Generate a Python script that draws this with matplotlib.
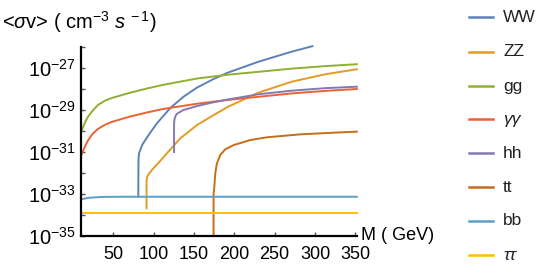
import numpy as np
import matplotlib
matplotlib.use("Agg")
import matplotlib.pyplot as plt
from matplotlib.lines import Line2D

plt.rcParams['font.family'] = ['Liberation Sans', 'DejaVu Sans']
plt.rcParams['mathtext.fontset'] = 'custom'
plt.rcParams['mathtext.rm'] = 'Liberation Sans'
plt.rcParams['mathtext.it'] = 'Liberation Sans:italic'
plt.rcParams['mathtext.bf'] = 'Liberation Sans:bold'

# --------------------------------------------------
# Data: mass M (GeV) and log10(<sigma v>)
# --------------------------------------------------
m_ww = [81.0, 81.1, 81.3, 82.0, 83.5, 86.0, 89.7, 95.0, 104.2, 120.7, 137.3,
        153.9, 174.5, 192.0, 230.0, 271.3, 296.8]
s_ww = [-33.13, -32.0, -31.3, -31.05, -30.9, -30.65, -30.43, -30.12, -29.63,
        -28.9, -28.36, -27.93, -27.52, -27.22, -26.7, -26.22, -25.96]

m_zz = [91.2, 91.2, 91.6, 93.4, 98.0, 108.3, 116.5, 133.0, 153.9, 174.5,
        192.0, 230.0, 271.3, 312.5, 351.8]
s_zz = [-33.68, -32.4, -32.22, -32.08, -31.85, -31.42, -31.06, -30.35, -29.71,
        -29.24, -28.85, -28.17, -27.65, -27.3, -27.06]

m_gg = [10.3, 12.5, 15.5, 18.7, 24.0, 31.0, 40.0, 48.0, 68.6, 91.3, 112.0,
        153.9, 192.0, 230.0, 271.3, 312.5, 351.8]
s_gg = [-30.05, -29.82, -29.55, -29.32, -29.05, -28.76, -28.55, -28.43, -28.2,
        -27.98, -27.8, -27.5, -27.32, -27.18, -27.03, -26.91, -26.82]

m_aa = [10.3, 12.5, 15.0, 18.7, 24.0, 31.0, 40.0, 48.0, 69.0, 91.3, 112.0,
        153.9, 192.0, 230.0, 271.3, 312.5, 351.8]
s_aa = [-31.15, -30.96, -30.73, -30.45, -30.15, -29.9, -29.7, -29.57, -29.33,
        -29.12, -28.95, -28.7, -28.52, -28.37, -28.21, -28.09, -28.0]

m_hh = [125.3, 125.3, 125.8, 127.0, 128.5, 136.8, 153.9, 174.5, 192.0, 230.0,
        271.3, 312.5, 351.8]
s_hh = [-31.0, -29.7, -29.45, -29.3, -29.19, -29.0, -28.81, -28.63, -28.5,
        -28.25, -28.08, -27.96, -27.89]

m_tt = [174.2, 174.3, 175.2, 176.4, 178.4, 182.6, 188.8, 199.1, 219.8, 240.4,
        281.8, 323.0, 351.8]
s_tt = [-35.0, -33.0, -32.65, -32.01, -31.54, -31.14, -30.87, -30.67, -30.43,
        -30.3, -30.16, -30.08, -30.03]

m_bb = [10.0, 20.0, 35.0, 60.0, 351.8]
s_bb = [-33.25, -33.18, -33.14, -33.13, -33.13]

m_ta = [10.0, 351.8]
s_ta = [-33.89, -33.89]

labels = ["WW", "ZZ", "gg", "γγ", "hh", "tt", "bb", "ττ"]
colors = ["#5E81B5", "#E19C24", "#8FB032", "#EB6235",
          "#8778B3", "#C56E1A", "#5D9EC7", "#FFBF00"]
masses = [m_ww, m_zz, m_gg, m_aa, m_hh, m_tt, m_bb, m_ta]
logsig = [s_ww, s_zz, s_gg, s_aa, s_hh, s_tt, s_bb, s_ta]

y_exps = list(range(-35, -25))
x_ticks = [50, 100, 150, 200, 250, 300, 350]

# --------------------------------------------------
# Figure
# --------------------------------------------------
fig = plt.figure(figsize=(5.45, 2.73), dpi=100)
ax = fig.add_axes([81 / 545, 37 / 273, 276 / 545, 189 / 273])

for m, s, c in zip(masses, logsig, colors):
    ax.plot(m, 10.0 ** np.array(s), color=c, lw=1.4, clip_on=False)

ax.set_yscale('log')
ax.set_xlim(10, 352)
ax.set_ylim(1e-35, 1e-26)

ax.set_yticks([10.0 ** e for e in y_exps])
ax.set_yticklabels([r"$10^{%d}$" % e if e % 2 else "" for e in y_exps])
ax.yaxis.set_minor_locator(matplotlib.ticker.NullLocator())
ax.set_xticks(x_ticks)
ax.set_xticklabels([str(t) for t in x_ticks])

ax.tick_params(axis='both', direction='in', length=3, width=1,
               color='#555555')
ax.tick_params(axis='y', pad=4, labelsize=14.5)
ax.tick_params(axis='x', pad=7, labelsize=13)

for side in ['top', 'right']:
    ax.spines[side].set_visible(False)
for side in ['left', 'bottom']:
    ax.spines[side].set_linewidth(1.6)
    ax.spines[side].set_color('black')

fig.text(2 / 545, 1 - 22 / 273, r"<$\sigma$v> ( cm$^{-3}$ $s^{\,-1}$)",
         fontsize=14.5, ha='left', va='center')
fig.text(361 / 545, 1 - 236 / 273, "M ( GeV)", fontsize=13,
         ha='left', va='center')

# legend drawn at the right
leg_y = [17.3, 51.7, 86.0, 119.3, 153.3, 187.3, 220.7, 255.0]
for lab, c, yy in zip(labels, colors, leg_y):
    yf = 1 - yy / 273
    fig.add_artist(Line2D([469 / 545, 493 / 545], [yf, yf], color=c, lw=1.8))
    style = 'italic' if lab in ("γγ", "ττ") else 'normal'
    fig.text(503 / 545, yf, lab, fontsize=12.5, ha='left', va='center',
             style=style, color='#222222')

fig.savefig("out.png", dpi=100)
